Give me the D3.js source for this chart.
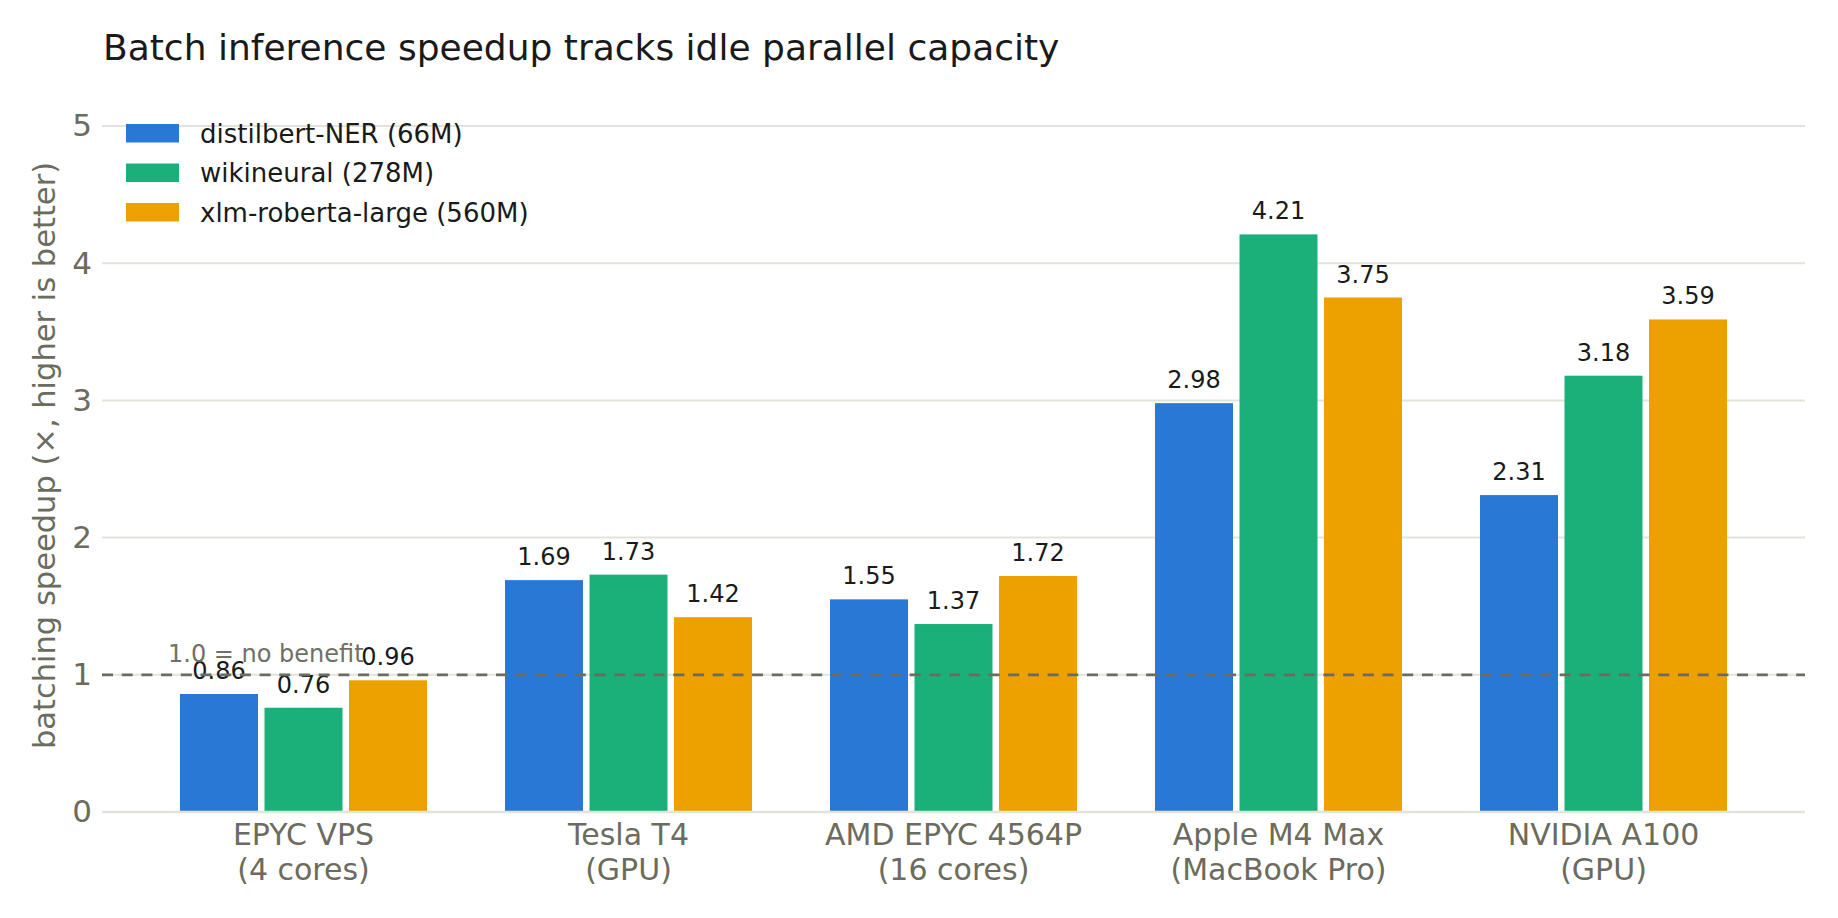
<!DOCTYPE html>
<html>
<head>
<meta charset="utf-8">
<title>Batch inference speedup</title>
<script src="https://cdn.jsdelivr.net/npm/d3@7"></script>
<style>
    body { margin: 0; background: #ffffff; }
    svg { font-family: "DejaVu Sans", sans-serif; display: block; }
</style>
</head>
<body>
<script>
// chart data
var categories = ["EPYC VPS\n(4 cores)", "Tesla T4\n(GPU)", "AMD EPYC 4564P\n(16 cores)", "Apple M4 Max\n(MacBook Pro)", "NVIDIA A100\n(GPU)"];
var seriesNames = ["distilbert-NER (66M)", "wikineural (278M)", "xlm-roberta-large (560M)"];
var distilbert = [0.86, 1.69, 1.55, 2.98, 2.31];
var wikineural = [0.76, 1.73, 1.37, 4.21, 3.18];
var xlmRoberta = [0.96, 1.42, 1.72, 3.75, 3.59];
var yTicks = [0, 1, 2, 3, 4, 5];
var baselineValue = 1.0;

//execute script when window is loaded
window.onload = function(){

    var w = 1838, h = 918;
    var margin = {top: 126, right: 33, bottom: 106, left: 102};

    var colors = ["#2a78d6", "#1bb07a", "#eca100"];
    var series = [distilbert, wikineural, xlmRoberta];

    // build rows: one per category, with the three values
    var rows = categories.map(function(c, i){
        return {cat: c, values: series.map(function(s, j){ return {key: j, value: s[i]}; })};
    });

    var svg = d3.select("body")
        .append("svg")
        .attr("width", w)
        .attr("height", h)
        .style("background-color", "#ffffff");

    //outer band scale for hardware groups
    var x = d3.scaleBand()
        .domain(categories)
        .range([margin.left, w - margin.right])
        .padding(0.24);

    //inner band scale for the three models
    var x1 = d3.scaleBand()
        .domain([0, 1, 2])
        .range([0, x.bandwidth()])
        .paddingInner(0.077);

    var y = d3.scaleLinear()
        .domain([0, 5])
        .range([h - margin.bottom, margin.top]);

    //horizontal grid lines
    svg.append("g")
        .attr("class", "grid")
        .selectAll("line")
        .data(yTicks)
        .enter()
        .append("line")
        .attr("x1", margin.left)
        .attr("x2", w - margin.right)
        .attr("y1", function(d){ return y(d); })
        .attr("y2", function(d){ return y(d); })
        .style("stroke", "#e3e3dc")
        .style("stroke-width", 2);

    //y axis (labels only)
    var yAxis = d3.axisLeft(y)
        .tickValues(yTicks)
        .tickFormat(d3.format("d"))
        .tickSize(0)
        .tickPadding(10);

    var yAxisG = svg.append("g")
        .attr("transform", "translate(" + margin.left + ",0)")
        .call(yAxis);
    yAxisG.select(".domain").remove();
    yAxisG.selectAll("text")
        .style("font-family", "DejaVu Sans, sans-serif")
        .style("font-size", "31px")
        .style("fill", "#6b6b5e");

    //x axis with two-line category labels
    var xAxis = d3.axisBottom(x).tickSize(0).tickPadding(10);
    var xAxisG = svg.append("g")
        .attr("transform", "translate(0," + (h - margin.bottom) + ")")
        .call(xAxis);
    xAxisG.select(".domain").remove();
    xAxisG.selectAll(".tick text")
        .style("font-family", "DejaVu Sans, sans-serif")
        .style("font-size", "30px")
        .style("fill", "#6b6b5e")
        .text(null)
        .attr("dy", null)
        .each(function(d){
            var t = d3.select(this);
            d.split("\n").forEach(function(line, k){
                t.append("tspan")
                    .attr("x", 0)
                    .attr("y", 33 + k * 34.5)
                    .text(line);
            });
        });

    //bar groups
    var groups = svg.selectAll(".group")
        .data(rows)
        .enter()
        .append("g")
        .attr("class", "group")
        .attr("transform", function(d){ return "translate(" + x(d.cat) + ",0)"; });

    groups.selectAll("rect")
        .data(function(d){ return d.values; })
        .enter()
        .append("rect")
        .attr("x", function(d){ return x1(d.key); })
        .attr("y", function(d){ return y(d.value); })
        .attr("width", x1.bandwidth())
        .attr("height", function(d){ return y(0) - y(d.value); })
        .style("fill", function(d){ return colors[d.key]; });

    //baseline axis line
    svg.append("line")
        .attr("x1", margin.left)
        .attr("x2", w - margin.right)
        .attr("y1", y(0))
        .attr("y2", y(0))
        .style("stroke", "#e3e3dc")
        .style("stroke-width", 2.5);

    //dashed "no benefit" reference line
    svg.append("line")
        .attr("x1", margin.left)
        .attr("x2", w - margin.right)
        .attr("y1", y(baselineValue))
        .attr("y2", y(baselineValue))
        .style("stroke", "#6b6b60")
        .style("stroke-width", 2.7)
        .style("stroke-dasharray", "11,8.7");

    svg.append("text")
        .attr("x", 168)
        .attr("y", y(baselineValue) - 13)
        .style("font-size", "24px")
        .style("fill", "#707064")
        .text("1.0 = no benefit");

    //value labels above bars
    groups.selectAll(".val")
        .data(function(d){ return d.values; })
        .enter()
        .append("text")
        .attr("class", "val")
        .attr("text-anchor", "middle")
        .attr("x", function(d){ return x1(d.key) + x1.bandwidth() / 2; })
        .attr("y", function(d){ return y(d.value) - 15; })
        .style("font-size", "24px")
        .style("fill", "#1a1a1a")
        .text(function(d){ return d3.format(".2f")(d.value); });

    //y axis title
    svg.append("text")
        .attr("transform", "translate(55,455.5) rotate(-90)")
        .attr("text-anchor", "middle")
        .style("font-size", "30.5px")
        .style("fill", "#6b6b5e")
        .text("batching speedup (×, higher is better)");

    //chart title
    svg.append("text")
        .attr("x", 103)
        .attr("y", 60)
        .style("font-size", "36px")
        .style("fill", "#1a1a1a")
        .text("Batch inference speedup tracks idle parallel capacity");

    //legend
    var legend = svg.selectAll(".legend")
        .data(seriesNames)
        .enter()
        .append("g")
        .attr("class", "legend")
        .attr("transform", function(d, i){ return "translate(126," + (124 + i * 39.5) + ")"; });

    legend.append("rect")
        .attr("width", 53)
        .attr("height", 18.5)
        .style("fill", function(d, i){ return colors[i]; });

    legend.append("text")
        .attr("x", 74)
        .attr("y", 18.5)
        .style("font-size", "26px")
        .style("fill", "#1a1a1a")
        .text(function(d){ return d; });
};
</script>
</body>
</html>
